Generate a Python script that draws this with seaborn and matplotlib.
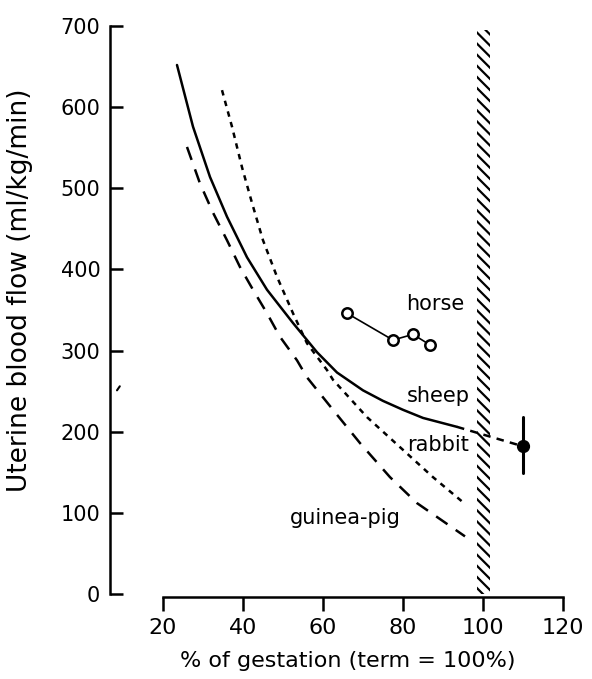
import numpy as np
import pandas as pd
import matplotlib
matplotlib.use("Agg")
import matplotlib.pyplot as plt
import seaborn as sns

# curves (% of gestation, ml/kg/min)
sheep_x = [23.5, 27.5, 31.75, 36, 41, 46, 52.5, 58.5, 63.5, 66.75, 70, 75, 80, 85, 93.5]
sheep_y = [652, 576, 514, 465, 415, 375, 334, 298, 273, 262, 251, 238, 227, 217, 206]

rabbit_x = [34.75, 37.25, 39.75, 42.25, 45, 48.5, 52.5, 56, 61, 62.5, 71, 79.25, 87.5, 95.5]
rabbit_y = [621, 576, 526, 482, 436, 391, 346, 309, 276, 264, 218, 181, 144, 111]

guinea_x = [26, 29.25, 32.5, 36, 39.25, 42.5, 46, 49.25, 53.5, 56, 62.5, 69.25, 76.75, 83.5, 95.5]
guinea_y = [551, 506, 470, 436, 403, 375, 346, 317, 288, 267, 227, 186, 144, 112, 71]

horse_x = [66, 77.5, 82.5, 86.75]
horse_y = [346, 313, 320, 307]

# sheep at term (mean with range)
term_x = [93.5, 110]
term_y = [206, 182]
term_err = [149, 218]

term_band = (98.5, 101.8)

labels = ["horse", "sheep", "rabbit", "guinea-pig"]
label_x = [88, 88.75, 88.75, 65.5]
label_y = [357, 244, 184, 94]

sns.set_style("ticks")
plt.rcParams["font.family"] = ["DejaVu Sans"]
plt.rcParams["hatch.linewidth"] = 1.6
plt.rcParams["text.color"] = "black"
plt.rcParams["axes.labelcolor"] = "black"
plt.rcParams["xtick.color"] = "black"
plt.rcParams["ytick.color"] = "black"

fig = plt.figure(figsize=(5.92, 6.79), dpi=100)
ax = fig.add_axes([0.1858, 0.1252, 0.7990, 0.8424])

lw = 1.8
sns.lineplot(x=sheep_x, y=sheep_y, color="black", linewidth=lw, ax=ax, sort=False)
sns.lineplot(x=rabbit_x, y=rabbit_y, color="black", linewidth=lw, ax=ax, sort=False,
             linestyle=(0, (2.2, 2.2)))
sns.lineplot(x=guinea_x, y=guinea_y, color="black", linewidth=lw, ax=ax, sort=False,
             linestyle=(0, (5.5, 4)))
sns.lineplot(x=horse_x, y=horse_y, color="black", linewidth=1.2, ax=ax, sort=False,
             marker="o", markersize=7.5, markerfacecolor="white",
             markeredgecolor="black", markeredgewidth=1.8)
sns.lineplot(x=term_x, y=term_y, color="black", linewidth=lw, ax=ax, sort=False,
             linestyle=(0, (3, 2.5)))
ax.plot([term_x[1], term_x[1]], term_err, color="black", lw=2.2)
ax.plot(term_x[1], term_y[1], "o", color="black", markersize=8.5)

ax.axvspan(term_band[0], term_band[1], ymin=0, ymax=695 / 705, fill=False,
           hatch="\\\\\\", edgecolor="black", linewidth=0)

# stray mark in the original scan
ax.plot([8.5, 9.2], [251, 256], color="black", lw=1.5)

for t, x, y in zip(labels, label_x, label_y):
    ax.text(x, y, t, ha="center", va="center", fontsize=15)

ax.set_xlim(6.75, 125)
ax.set_ylim(0, 705)
ax.set_xticks([20, 40, 60, 80, 100, 120])
ax.set_yticks([0, 100, 200, 300, 400, 500, 600, 700])
sns.despine(ax=ax)
ax.spines["left"].set_bounds(0, 700)
ax.spines["bottom"].set_bounds(20, 120)
ax.spines["bottom"].set_position(("outward", 2))
for s in ["left", "bottom"]:
    ax.spines[s].set_linewidth(1.8)
    ax.spines[s].set_color("black")
ax.tick_params(axis="y", direction="in", length=9.5, width=1.8, pad=7, labelsize=15)
ax.tick_params(axis="x", direction="out", length=10, width=1.8, pad=5, labelsize=16)

ax.set_xlabel("% of gestation (term = 100%)", fontsize=16)
ax.set_ylabel("Uterine blood flow (ml/kg/min)", fontsize=19)
ax.xaxis.set_label_coords(0.503, -0.099)
ax.yaxis.set_label_coords(-0.163, 0.531)

fig.savefig("out.png", dpi=100)
